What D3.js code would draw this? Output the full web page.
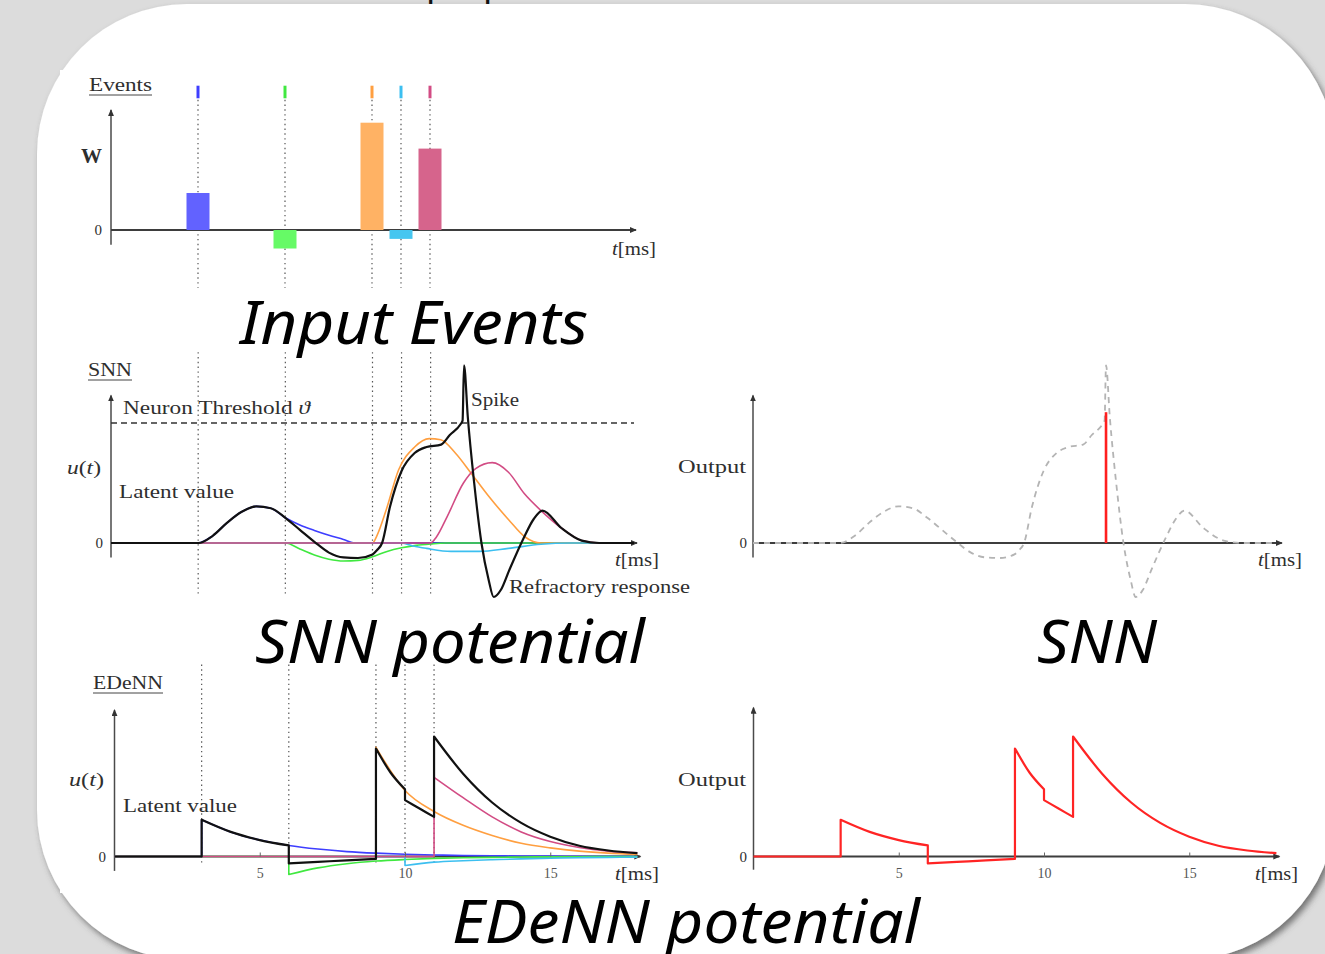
<!DOCTYPE html>
<html>
<head>
<meta charset="utf-8">
<script src="https://cdn.jsdelivr.net/npm/d3@7"></script>
<style>
  html, body { margin: 0; padding: 0; background: #dcdcdc; }
  svg { display: block; }
  .lbl { font-family: "Liberation Serif", "DejaVu Serif", serif; fill: #2e2e2e; }
  .cap { font-family: "Noto Sans", "Open Sans", sans-serif; font-style: italic; fill: #000; }
</style>
</head>
<body>
<svg id="chart"></svg>
<script>
// event times (ms) and weights
const eventTimes = [3, 6, 9, 10, 11];
const eventWeights = [0.5, -0.25, 1.45, -0.12, 1.1];
const barColors = ['#6262ff', '#66fa66', '#ffb264', '#46c6f0', '#d6648c'];
const lineColors = ['#3e3eff', '#40e840', '#ff9f40', '#3cbff0', '#d24c84'];

// SNN potential, [t, u] with u in units of the threshold
const snnBlue = [[0, 0], [3, 0], [3.5, 0.06], [4, 0.17], [4.5, 0.26], [5, 0.305], [5.5, 0.29], [6, 0.21],
  [6.5, 0.15], [7, 0.105], [7.5, 0.065], [8, 0.03], [8.4, 0], [18, 0]];
const snnGreen = [[0, 0], [6, 0], [6.5, -0.05], [7, -0.1], [7.5, -0.135], [8, -0.15], [8.5, -0.145], [9, -0.115],
  [9.5, -0.07], [10, -0.04], [10.5, -0.02], [11, -0.008], [11.5, 0], [18, 0]];
const snnOrange = [[0, 0], [9, 0], [9.15, 0.06], [9.47, 0.275], [9.9, 0.61], [10.45, 0.8], [10.95, 0.87],
  [11.35, 0.86], [11.85, 0.75], [12.4, 0.58], [13, 0.39], [13.7, 0.19], [14.25, 0.05], [14.8, 0], [18, 0]];
const snnCyan = [[0, 0], [10, 0], [10.4, -0.025], [10.86, -0.045], [11.7, -0.07], [12.68, -0.07], [13.68, -0.045],
  [14.8, -0.01], [15.8, 0], [18, 0]];
const snnMagenta = [[0, 0], [11, 0], [11.2, 0.05], [11.57, 0.22], [12.13, 0.5], [12.55, 0.62], [13.12, 0.67],
  [13.68, 0.59], [14.23, 0.41], [14.8, 0.27], [15.5, 0.125], [16.2, 0.02], [16.8, 0], [18, 0]];
const snnMembrane = [[0, 0], [3, 0], [3.5, 0.06], [4, 0.17], [4.5, 0.26], [5, 0.305], [5.5, 0.29], [6, 0.21],
  [6.5, 0.11], [7, 0.01], [7.5, -0.08], [8, -0.12], [8.5, -0.125], [9, -0.095], [9.15, -0.06], [9.33, 0],
  [9.6, 0.3], [10, 0.6], [10.45, 0.75], [10.86, 0.8], [11.36, 0.82], [11.66, 0.9], [12.03, 0.99], [12.1, 1.02],
  [12.15, 1.48], [12.28, 1.05], [12.5, 0.5], [12.75, 0], [13, -0.31], [13.17, -0.45], [13.42, -0.39],
  [13.7, -0.23], [14.2, 0.04], [14.55, 0.2], [14.85, 0.27], [15.5, 0.125], [16.2, 0.02], [16.8, 0], [18, 0]];
const snnThreshold = 1;
const spikeTime = 12.15;
const spikeHeight = 1.09;

// EDeNN potential, piecewise segments joined by vertical jumps
const edBlue = [[[0, 0], [3, 0]],
  [[3, 0.306], [4, 0.205], [5, 0.137], [6, 0.092], [7, 0.062], [8, 0.041], [9, 0.028], [10, 0.019], [11, 0.013],
   [12, 0.008], [13, 0.006], [14, 0.004], [15, 0.003], [16, 0.002], [17, 0.001], [18, 0.001]]];
const edGreen = [[[0, 0], [6, 0]],
  [[6, -0.15], [7, -0.095], [8, -0.06], [9, -0.038], [10, -0.025], [11, -0.016], [12, -0.01], [13, -0.007],
   [14, -0.004], [15, -0.003], [16, -0.002], [17, -0.001], [18, -0.001]]];
const edOrange = [[[0, 0], [9, 0]],
  [[9, 0.91], [10, 0.55], [11, 0.375], [12, 0.26], [13, 0.175], [14, 0.11], [15, 0.072], [16, 0.045],
   [17, 0.028], [18, 0.018]]];
const edCyan = [[[0, 0], [10, 0]],
  [[10, -0.075], [11, -0.047], [12, -0.035], [13, -0.027], [14, -0.02], [15, -0.015], [16, -0.01],
   [17, -0.007], [18, -0.005]]];
const edMagenta = [[[0, 0], [11, 0]],
  [[11, 0.66], [12, 0.49], [13, 0.33], [14, 0.205], [15, 0.125], [16, 0.075], [17, 0.045], [18, 0.03]]];
const edMembrane = [[[0, 0], [3, 0]],
  [[3, 0.306], [4, 0.205], [5, 0.137], [6, 0.092]],
  [[6, -0.058], [7, -0.045], [8, -0.032], [9, -0.02]],
  [[9, 0.9], [9.5, 0.7], [10, 0.56]],
  [[10, 0.47], [10.5, 0.4], [11, 0.33]],
  [[11, 1.0], [12, 0.69], [13, 0.45], [14, 0.28], [15, 0.165], [16, 0.09], [17, 0.05], [18, 0.028]]];
const edTicks = [5, 10, 15];

const W = 1325, H = 954;
const svg = d3.select('#chart').attr('width', W).attr('height', H);

const defs = svg.append('defs');
const shadow = defs.append('filter').attr('id', 'shadow')
    .attr('x', '-5%').attr('y', '-5%').attr('width', '115%').attr('height', '115%');
shadow.append('feDropShadow').attr('dx', 3).attr('dy', 4).attr('stdDeviation', 3)
    .attr('flood-color', '#444').attr('flood-opacity', 0.7);
defs.append('marker').attr('id', 'arrow')
    .attr('markerUnits', 'userSpaceOnUse')
    .attr('markerWidth', 8).attr('markerHeight', 6)
    .attr('refX', 6).attr('refY', 3).attr('orient', 'auto')
    .append('path').attr('d', 'M0,0L7,3L0,6Z').attr('fill', '#333');

// slide background
svg.append('rect').attr('width', W).attr('height', H).attr('fill', '#dcdcdc');
svg.append('text').attr('x', 426).attr('y', -4).attr('font-size', 36)
    .attr('font-family', 'Noto Sans').attr('fill', '#111').text('p');
svg.append('text').attr('x', 483).attr('y', -4).attr('font-size', 36)
    .attr('font-family', 'Noto Sans').attr('fill', '#111').text('p');
svg.append('rect').attr('x', 37).attr('y', 4).attr('width', 1298).attr('height', 956)
    .attr('rx', 150).attr('fill', '#fff').attr('filter', 'url(#shadow)');
svg.append('rect').attr('x', 60).attr('y', 70).attr('width', 1245).attr('height', 823).attr('fill', '#fff');

// scales per panel
const xEv = d3.scaleLinear().domain([0, 18]).range([111, 633]);
const yEv = d3.scaleLinear().domain([0, 1]).range([230, 156]);
const xSnn = d3.scaleLinear().domain([0, 18]).range([111, 634]);
const ySnn = d3.scaleLinear().domain([0, 1]).range([543, 423]);
const xSnnOut = d3.scaleLinear().domain([0, 18]).range([753, 1276]);
const xEd = d3.scaleLinear().domain([0, 18]).range([114.5, 637.4]);
const yEd = d3.scaleLinear().domain([0, 1]).range([856.5, 736.5]);
const xEdOut = d3.scaleLinear().domain([0, 18]).range([753.5, 1276.4]);

const g = svg.append('g');

function label(x, y, parts, opts = {}) {
    const t = g.append('text').attr('class', 'lbl')
        .attr('x', x).attr('y', y)
        .attr('font-size', opts.size || 18)
        .attr('text-anchor', opts.anchor || 'start');
    if (opts.len) t.attr('textLength', opts.len).attr('lengthAdjust', 'spacingAndGlyphs');
    if (opts.bold) t.attr('font-weight', 'bold');
    parts.forEach(p => {
        const s = t.append('tspan').text(p[0]);
        if (p[1]) s.attr('font-style', 'italic');
    });
    if (opts.underline) {
        g.append('line').attr('x1', x).attr('x2', x + opts.len)
            .attr('y1', y + 4).attr('y2', y + 4)
            .attr('stroke', '#444').attr('stroke-width', 1);
    }
    return t;
}

function axes(xs, ys, yLo, yHi, xHi) {
    g.append('line')
        .attr('x1', xs(0)).attr('x2', xs(0))
        .attr('y1', ys(yLo)).attr('y2', ys(yHi))
        .attr('stroke', '#4a4a4a').attr('stroke-width', 1.5)
        .attr('marker-end', 'url(#arrow)');
    g.append('line')
        .attr('x1', xs(0)).attr('x2', xs(xHi))
        .attr('y1', ys(0)).attr('y2', ys(0))
        .attr('stroke', '#3d3d3d').attr('stroke-width', 2)
        .attr('marker-end', 'url(#arrow)');
}

function eventLines(xs, ys, lo, hi) {
    g.append('g').selectAll('line')
        .data(eventTimes)
        .join('line')
        .attr('x1', d => xs(d)).attr('x2', d => xs(d))
        .attr('y1', ys(hi)).attr('y2', ys(lo))
        .attr('stroke', '#555').attr('stroke-width', 1.2)
        .attr('stroke-dasharray', '1.4,3.4');
}

function segPath(segs, xs, ys, curve) {
    const line = d3.line().x(d => xs(d[0])).y(d => ys(d[1])).curve(curve);
    return segs.map((s, i) => {
        const p = line(s);
        return i ? 'L' + p.slice(1) : p;
    }).join('');
}

function curve(segs, xs, ys, color, width, kind, dash) {
    const p = g.append('path')
        .attr('d', segPath(segs, xs, ys, kind || d3.curveMonotoneX))
        .attr('fill', 'none')
        .attr('stroke', color)
        .attr('stroke-width', width)
        .attr('stroke-linejoin', 'round');
    if (dash) p.attr('stroke-dasharray', dash);
    return p;
}

// ---- Input events panel
eventLines(xEv, yEv, -0.78, 1.76);
axes(xEv, yEv, -0.2, 1.62, 18.1);
g.append('g').selectAll('rect')
    .data(eventTimes)
    .join('rect')
    .attr('x', d => xEv(d) - 11.5)
    .attr('width', 23)
    .attr('y', (d, i) => yEv(Math.max(0, eventWeights[i])))
    .attr('height', (d, i) => Math.abs(yEv(eventWeights[i]) - yEv(0)))
    .attr('fill', (d, i) => barColors[i]);
g.append('g').selectAll('line')
    .data(eventTimes)
    .join('line')
    .attr('x1', d => xEv(d)).attr('x2', d => xEv(d))
    .attr('y1', yEv(1.95)).attr('y2', yEv(1.78))
    .attr('stroke', (d, i) => lineColors[i]).attr('stroke-width', 3);
g.append('g').attr('class', 'lbl')
    .attr('transform', `translate(${xEv(0)},0)`)
    .call(d3.axisLeft(yEv).tickValues([0, 1]).tickSize(0).tickPadding(9)
        .tickFormat(d => d === 0 ? '0' : 'W'))
    .call(a => a.select('.domain').remove())
    .call(a => a.selectAll('text').attr('font-family', 'Liberation Serif').attr('fill', '#2e2e2e')
        .attr('font-size', d => d === 0 ? 15 : 21).attr('font-weight', d => d === 0 ? 'normal' : 'bold'));
label(89, 91, [['Events']], { len: 63, underline: true });
label(612, 255, [['t', true], ['[ms]']], { len: 44 });

// ---- SNN potential panel
eventLines(xSnn, ySnn, -0.45, 1.59);
axes(xSnn, ySnn, -0.12, 1.23, 18.1);
g.append('line')
    .attr('x1', xSnn(0)).attr('x2', xSnn(18))
    .attr('y1', ySnn(snnThreshold)).attr('y2', ySnn(snnThreshold))
    .attr('stroke', '#333').attr('stroke-width', 1.6).attr('stroke-dasharray', '6,4');
[snnBlue, snnGreen, snnOrange, snnCyan, snnMagenta].forEach((s, i) =>
    curve([s], xSnn, ySnn, lineColors[i], 1.6));
curve([snnMembrane], xSnn, ySnn, '#111', 2.2);
label(88, 376, [['SNN']], { len: 44, underline: true });
label(123, 414, [['Neuron Threshold '], ['ϑ', true]], { len: 187 });
label(471, 406, [['Spike']], { len: 48 });
label(67, 474, [['u', true], ['('], ['t', true], [')']], { len: 34 });
label(119, 498, [['Latent value']], { len: 115 });
label(103, 548, [['0']], { size: 15, anchor: 'end' });
label(615, 566, [['t', true], ['[ms]']], { len: 44 });
label(509, 593, [['Refractory response']], { len: 181 });

// ---- SNN output panel
axes(xSnnOut, ySnn, -0.12, 1.23, 18.2);
curve([snnMembrane], xSnnOut, ySnn, '#b4b4b4', 1.8, d3.curveMonotoneX, '6,5');
g.append('line')
    .attr('x1', xSnnOut(spikeTime)).attr('x2', xSnnOut(spikeTime))
    .attr('y1', ySnn(0)).attr('y2', ySnn(spikeHeight))
    .attr('stroke', '#ff1f1f').attr('stroke-width', 2.6);
label(678, 473, [['Output']], { len: 68 });
label(747, 548, [['0']], { size: 15, anchor: 'end' });
label(1258, 566, [['t', true], ['[ms]']], { len: 44 });

// ---- EDeNN potential panel
eventLines(xEd, yEd, -0.05, 1.6);
axes(xEd, yEd, -0.12, 1.22, 18.1);
[edBlue, edGreen, edOrange, edCyan, edMagenta].forEach((s, i) =>
    curve(s, xEd, yEd, lineColors[i], 1.6));
curve(edMembrane, xEd, yEd, '#111', 2.2);
g.append('g')
    .attr('transform', `translate(0,${yEd(0)})`)
    .call(d3.axisBottom(xEd).tickValues(edTicks).tickSizeInner(-4).tickSizeOuter(0).tickPadding(12))
    .call(a => a.select('.domain').remove())
    .call(a => a.selectAll('line').attr('stroke', '#666'))
    .call(a => a.selectAll('text').attr('font-family', 'Liberation Serif').attr('font-size', 14).attr('fill', '#555'));
label(93, 689, [['EDeNN']], { len: 70, underline: true });
label(69, 786, [['u', true], ['('], ['t', true], [')']], { len: 35 });
label(123, 812, [['Latent value']], { len: 114 });
label(106, 862, [['0']], { size: 15, anchor: 'end' });
label(615, 880, [['t', true], ['[ms]']], { len: 44 });

// ---- EDeNN output panel
axes(xEdOut, yEd, -0.11, 1.24, 18.1);
g.append('g')
    .attr('transform', `translate(0,${yEd(0)})`)
    .call(d3.axisBottom(xEdOut).tickValues(edTicks).tickSizeInner(-4).tickSizeOuter(0).tickPadding(12))
    .call(a => a.select('.domain').remove())
    .call(a => a.selectAll('line').attr('stroke', '#666'))
    .call(a => a.selectAll('text').attr('font-family', 'Liberation Serif').attr('font-size', 14).attr('fill', '#555'));
curve(edMembrane, xEdOut, yEd, '#ff2424', 2.2);
label(678, 786, [['Output']], { len: 68 });
label(747, 862, [['0']], { size: 15, anchor: 'end' });
label(1255, 880, [['t', true], ['[ms]']], { len: 43 });

// ---- captions
const captions = [
    { text: 'Input Events', x: 240, y: 344, len: 348 },
    { text: 'SNN potential', x: 255, y: 663, len: 390 },
    { text: 'SNN', x: 1037, y: 663, len: 120 },
    { text: 'EDeNN potential', x: 452, y: 943, len: 468 }
];
svg.append('g').selectAll('text')
    .data(captions)
    .join('text')
    .attr('class', 'cap')
    .attr('x', d => d.x).attr('y', d => d.y)
    .attr('font-size', 60)
    .attr('textLength', d => d.len)
    .attr('lengthAdjust', 'spacingAndGlyphs')
    .text(d => d.text);
</script>
</body>
</html>
